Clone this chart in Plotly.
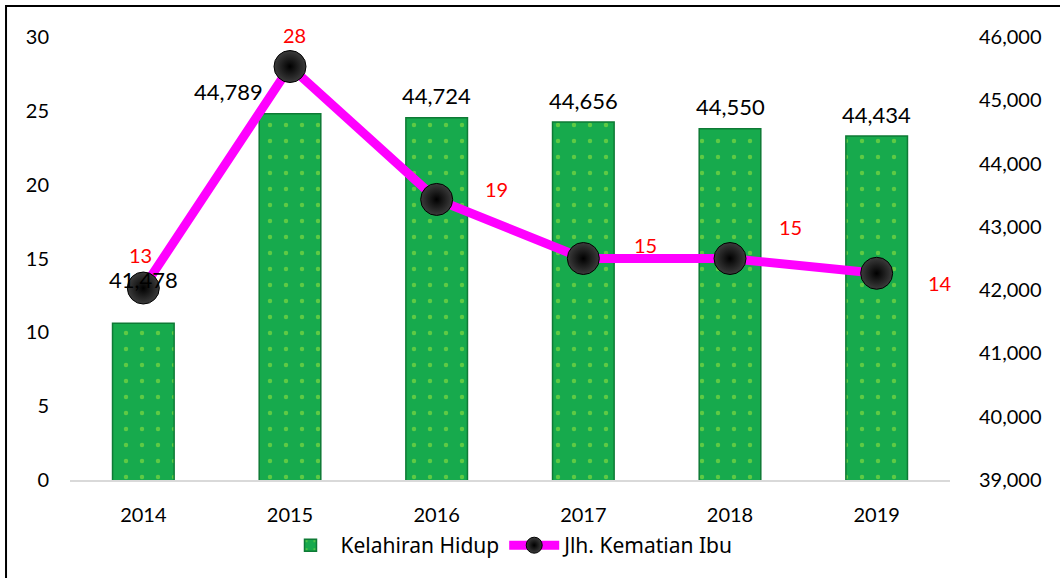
import plotly.graph_objects as go

years = ["2014", "2015", "2016", "2017", "2018", "2019"]
kelahiran_hidup = [41478, 44789, 44724, 44656, 44550, 44434]
kematian_ibu = [13, 28, 19, 15, 15, 14]

FONT = "Lato, Open Sans, sans-serif"

fig = go.Figure()
# bars on primary axis (shown on right), line on overlaying axis (shown on left) so line is drawn on top
fig.add_trace(go.Bar(
    x=years, y=kelahiran_hidup, name="Kelahiran Hidup", yaxis="y",
    marker=dict(color="#17aa4d", line=dict(color="#0e7a35", width=1.5),
                pattern=dict(shape=".", fgcolor="#a6ea3a", size=16, solidity=0.06)),
    width=0.42,
))
fig.add_trace(go.Scatter(
    x=years, y=kematian_ibu, name="Jlh. Kematian Ibu", mode="lines+markers", yaxis="y2",
    line=dict(color="#ff00ff", width=9),
    marker=dict(size=32, color="#3c3c3c", line=dict(color="#000000", width=1),
                gradient=dict(type="radial", color="#000000")),
))

# bar value labels
bar_shifts = [(0, 44), (-62, 22), (0, 22), (0, 22), (0, 22), (0, 22)]
for i, (v, (dx, dy)) in enumerate(zip(kelahiran_hidup, bar_shifts)):
    fig.add_annotation(x=i, y=v, xref="x", yref="y", text=f"{v:,}", showarrow=False,
                       xshift=dx, yshift=dy, font=dict(family=FONT, size=22, color="#000"))

# line value labels
line_shifts = [(-3, 33), (4, 32), (60, 10), (62, 14), (60, 32), (63, -10)]
for i, (v, (dx, dy)) in enumerate(zip(kematian_ibu, line_shifts)):
    fig.add_annotation(x=i, y=v, xref="x", yref="y2", text=str(v), showarrow=False,
                       xshift=dx, yshift=dy, font=dict(family=FONT, size=20, color="#ff0000"))

fig.update_layout(
    width=1060, height=578,
    margin=dict(l=70, r=110, t=37, b=96),
    paper_bgcolor="white", plot_bgcolor="white",
    font=dict(family=FONT, size=20, color="#000"),
    showlegend=True,
    legend=dict(orientation="h", x=0.5, xanchor="center", y=-0.148, yanchor="middle",
                font=dict(family="Noto Sans, sans-serif", size=21),
                traceorder="normal", itemwidth=50),
    xaxis=dict(type="category", showgrid=False, showline=True, linecolor="#d9d9d9", linewidth=1.5,
               ticks="", ticklabelstandoff=16, range=[-0.5, 5.5]),
    yaxis=dict(range=[39000, 46000], dtick=1000, side="right",
               showgrid=False, zeroline=False, showline=False, ticks="",
               tickformat=",d", ticklabelstandoff=28),
    yaxis2=dict(range=[0, 30], dtick=5, overlaying="y", side="left",
                showgrid=False, zeroline=False, showline=False, ticks="",
                ticklabelstandoff=20),
    shapes=[dict(type="rect", xref="paper", yref="paper",
                 x0=-0.0727, x1=1.3, y0=-0.4, y1=1.0697,
                 line=dict(color="#000000", width=2), layer="above")],
)

fig.write_html("out.html", config={"displayModeBar": False},
               post_script="document.body.style.margin='0';")
